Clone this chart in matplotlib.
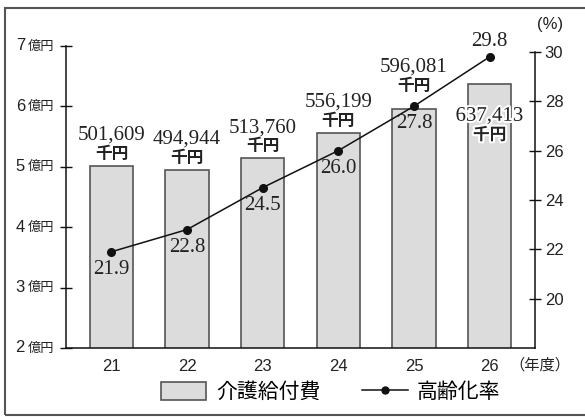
import matplotlib
matplotlib.use('Agg')
import matplotlib.pyplot as plt
import matplotlib.patheffects as pe
from matplotlib.patches import Rectangle
from matplotlib.lines import Line2D

years = [21, 22, 23, 24, 25, 26]
year_labels = ['21', '22', '23', '24', '25', '26']
care_cost = [501609, 494944, 513760, 556199, 596081, 637413]  # 千円
aging_rate = [21.9, 22.8, 24.5, 26.0, 27.8, 29.8]  # %
left_ticks = [2, 3, 4, 5, 6, 7]
right_ticks = [20, 22, 24, 26, 28, 30]

# vertical shift (pixels) of the amount labels relative to the default spot
label_shift = [0, 0, 0, 0, 11, -63]

SERIF = ['Liberation Serif', 'Noto Sans CJK JP']
SANS = ['Liberation Sans', 'Noto Sans CJK JP']
CJK = ['Noto Sans CJK JP', 'DejaVu Sans']

fig = plt.figure(figsize=(5.85, 4.17), dpi=100)
ax = fig.add_axes([66/585, 1-348/417, (535-66)/585, (348-46)/417])
ax2 = ax.twinx()

bar_vals = [v / 100000 for v in care_cost]  # 億円
ax.bar(years, bar_vals, width=0.57, color='#dcdcdc', edgecolor='#555555', linewidth=1.2, zorder=2)
ax.set_xlim(20.4, 26.6)
ax.set_ylim(2, 7)

ax2.plot(years, aging_rate, color='#111111', lw=1.1, marker='o', ms=5.5, zorder=3)
ax2.set_ylim(18, 30.24)

ax.spines['top'].set_visible(False)
ax2.spines['top'].set_visible(False)
ax.spines['right'].set_visible(False)
ax2.spines['left'].set_visible(False)
ax2.spines['bottom'].set_visible(False)
ax2.spines['right'].set_bounds(18, 30)
for sp in [ax.spines['left'], ax.spines['bottom'], ax2.spines['right']]:
    sp.set_color('#111111')
    sp.set_linewidth(1.1)

ax.set_xticks(years)
ax.set_xticklabels(year_labels, fontsize=12, family=SANS, color='#222222')
ax.tick_params(axis='x', length=0, pad=8)
ax.set_yticks(left_ticks)
ax.set_yticklabels([])
ax.tick_params(axis='y', direction='inout', length=8, width=1, color='#111111')
for t in left_ticks:
    ax.annotate('億円', xy=(0, t), xycoords=('axes fraction', 'data'),
                xytext=(-12, 0), textcoords='offset pixels', ha='right', va='center',
                fontsize=9.5, family=CJK, color='#222222')
    ax.annotate(str(t), xy=(0, t), xycoords=('axes fraction', 'data'),
                xytext=(-41, 0), textcoords='offset pixels', ha='right', va='center',
                fontsize=12, family=SANS, color='#222222')

ax2.set_yticks(right_ticks)
ax2.set_yticklabels([str(t) for t in right_ticks], fontsize=12, family=SANS, color='#222222')
ax2.tick_params(axis='y', direction='inout', length=8, width=1, color='#111111', pad=3)

ax.text(1.004, 1.07, '(%)', transform=ax.transAxes, ha='left', va='center',
        fontsize=12, family=SANS, color='#222222')
ax.text(1.011, -0.055, '（年度）', transform=ax.transAxes, ha='center', va='center',
        fontsize=11, family=CJK, color='#222222')

# amount labels
for x, v, raw, sh in zip(years, bar_vals, care_cost, label_shift):
    t1 = ax.annotate('千円', xy=(x, v), xytext=(0, 3 + sh), textcoords='offset pixels',
                     ha='center', va='bottom', fontsize=12, fontweight='bold', family=CJK,
                     color='#222222', zorder=5)
    t2 = ax.annotate(f'{raw:,}', xy=(x, v), xytext=(0, 21 + sh), textcoords='offset pixels',
                     ha='center', va='bottom', fontsize=15, family=SERIF,
                     color='#222222', zorder=5)
    if sh < 0:
        t1.set_path_effects([pe.withStroke(linewidth=3, foreground='white')])
        t2.set_path_effects([pe.withStroke(linewidth=3, foreground='white')])

# rate labels
for i, (x, r) in enumerate(zip(years, aging_rate)):
    if i == len(years) - 1:
        ax2.annotate(f'{r:.1f}', xy=(x, r), xytext=(0, 6), textcoords='offset pixels',
                     ha='center', va='bottom', fontsize=15, family=SERIF, color='#222222')
    else:
        ax2.annotate(f'{r:.1f}', xy=(x, r), xytext=(0, -8), textcoords='offset pixels',
                     ha='center', va='top', fontsize=15, family=SERIF, color='#222222')

# legend
handles = [Rectangle((0, 0), 1, 1, facecolor='#dcdcdc', edgecolor='#555555', lw=1.2),
           Line2D([], [], color='#111111', lw=1.1, marker='o', ms=5)]
fig.legend(handles, ['介護給付費', '高齢化率'], loc='center', bbox_to_anchor=(0.565, 0.06),
           ncol=2, frameon=False, prop={'family': CJK, 'size': 15},
           handlelength=2.2, handleheight=0.95, handletextpad=0.45, columnspacing=2.0)

fig.add_artist(Rectangle((5/585, 2/417), 1.0, 1 - 10/417, transform=fig.transFigure,
                         fill=False, edgecolor='#555555', lw=1.5))

fig.savefig('out.png', dpi=100)
